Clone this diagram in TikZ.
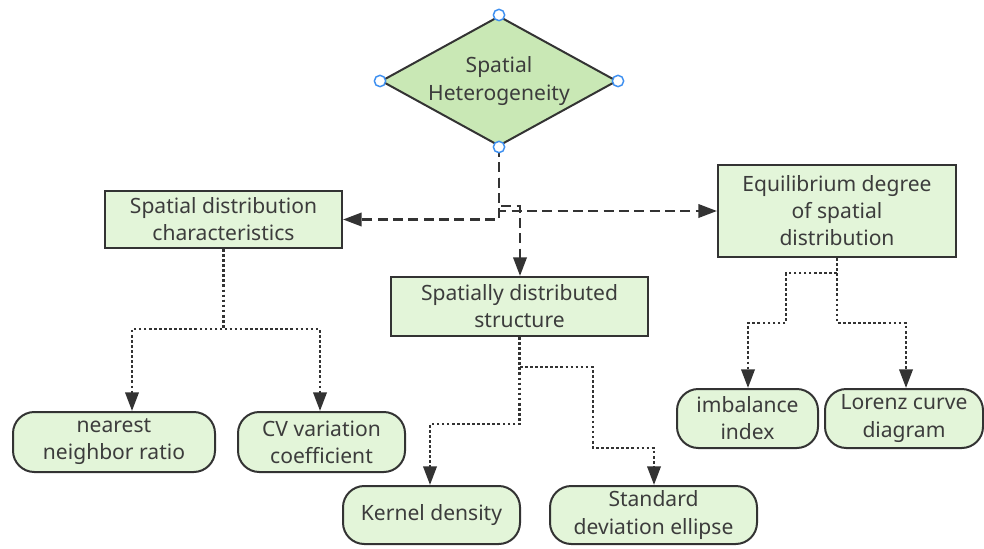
\documentclass[tikz,border=0pt]{standalone}
\usepackage{fontspec}
\setmainfont{Noto Sans}
\usetikzlibrary{shapes.geometric,arrows.meta}
\definecolor{linec}{HTML}{333333}
\definecolor{txtc}{HTML}{3C3C3C}
\definecolor{diafill}{HTML}{C9E8B5}
\definecolor{boxfill}{HTML}{E3F5D9}
\definecolor{handle}{HTML}{3D8FF0}
\tikzset{
  every node/.style={font=\fontsize{15.8pt}{20.3pt}\selectfont, text=txtc, align=center},
  sqbox/.style={draw=linec, line width=1.5pt, fill=boxfill, inner sep=0pt},
  rbox/.style={draw=linec, line width=1.5pt, fill=boxfill, rounded corners=16pt, inner sep=0pt},
  dia/.style={diamond, draw=linec, line width=1.5pt, fill=diafill, aspect=1.8, inner sep=0pt},
  hdl/.style={circle, draw=handle, fill=white, line width=1.1pt, minimum size=8.5pt, inner sep=0pt},
  dashconn/.style={draw=linec, line width=2pt, dash pattern=on 7.5pt off 4pt, -{Triangle[length=14pt,width=10pt]}},
  dotconn/.style={draw=linec, line width=2pt, dash pattern=on 2pt off 1.8pt, -{Triangle[length=14pt,width=10pt]}},
}
\begin{document}
\begin{tikzpicture}[x=0.75pt,y=-0.75pt]
\useasboundingbox (0,0) rectangle (984,549);
% main diamond
\node[dia, minimum width=177pt, minimum height=97.5pt] (top) at (499,81) {Spatial\\Heterogeneity};
% boxes
\node[sqbox, minimum width=177.75pt, minimum height=42.75pt] (b1) at (223.5,219.5) {Spatial distribution\\characteristics};
\node[sqbox, minimum width=192.75pt, minimum height=44.25pt] (b2) at (519.5,306.5) {Spatially distributed\\structure};
\node[sqbox, minimum width=178.5pt, minimum height=69pt] (b3) at (837,211) {Equilibrium degree\\of spatial\\distribution};
% leaves
\node[rbox, minimum width=151.5pt, minimum height=45pt] (nn) at (114,442) {nearest\\neighbor ratio};
\node[rbox, minimum width=125.25pt, minimum height=45pt] (cv) at (321.5,442) {CV variation\\coefficient};
\node[rbox, minimum width=132.75pt, minimum height=43.5pt] (kd) at (431.5,515) {Kernel density};
\node[rbox, minimum width=155.25pt, minimum height=43.5pt] (sd) at (653.5,515) {Standard\\deviation ellipse};
\node[rbox, minimum width=105.75pt, minimum height=44.25pt] (ib) at (747.5,418.5) {imbalance\\index};
\node[rbox, minimum width=118.5pt, minimum height=44.25pt] (lz) at (904,418.5) {Lorenz curve\\diagram};
% dashed connectors
\coordinate (m) at (520,206);
\draw[dashconn] (top.south) |- (b1.east);
\draw[dashconn] (top.south) |- (b3.west);
\draw[dashconn] (top.south) |- (m) -- (m |- b2.north);
% dotted connectors from b1
\coordinate (a1) at (132,329);
\coordinate (a2) at (320,329);
\draw[dotconn] (b1.south) |- (a1) -- (a1 |- nn.north);
\draw[dotconn] (b1.south) |- (a2) -- (a2 |- cv.north);
% from b2
\coordinate (k1) at (520,424);
\coordinate (k2) at (430,424);
\coordinate (s1) at (593,367);
\coordinate (s2) at (593,448);
\coordinate (s3) at (654,448);
\draw[dotconn] (b2.south) -- (b2.south |- k1) -- (k2) -- (k2 |- kd.north);
\draw[dotconn] (b2.south) |- (s1) -- (s2) -- (s3) -- (s3 |- sd.north);
% from b3
\coordinate (e1) at (786,273);
\coordinate (e2) at (786,323);
\coordinate (e3) at (748,323);
\coordinate (f1) at (906,323);
\draw[dotconn] (b3.south) |- (e1) -- (e2) -- (e3) -- (e3 |- ib.north);
\draw[dotconn] (b3.south) |- (f1) -- (f1 |- lz.north);
% handles on diamond
\node[hdl] (h1) at (top.north) {};
\node[hdl] (h2) at (top.south) {};
\node[hdl] (h3) at (top.east) {};
\node[hdl] (h4) at (top.west) {};
\end{tikzpicture}
\end{document}
